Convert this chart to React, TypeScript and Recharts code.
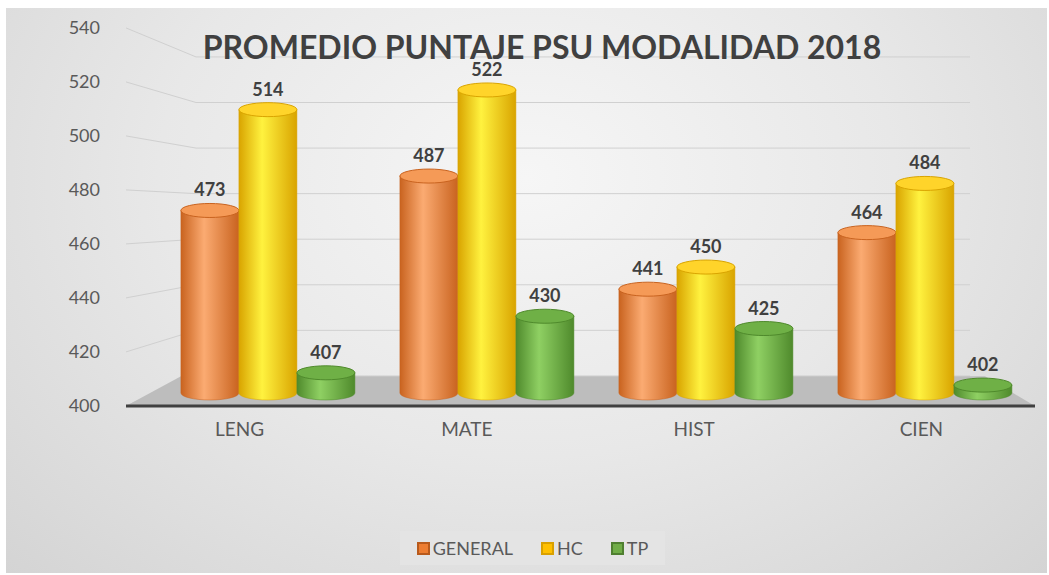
import React from 'react';
import {
  Bar,
  BarChart,
  CartesianGrid,
  LabelList,
  ReferenceArea,
  XAxis,
  YAxis,
} from 'recharts';

const categories = ['LENG', 'MATE', 'HIST', 'CIEN'];
const general = [473, 487, 441, 464];
const hc = [514, 522, 450, 484];
const tp = [407, 430, 425, 402];
const yTicks = [400, 420, 440, 460, 480, 500, 520, 540];

const data = categories.map((cat, i) => ({
  cat,
  general: general[i],
  hc: hc[i],
  tp: tp[i],
}));

const font = 'Lato, "Open Sans", sans-serif';
const textGray = '#595959';

const series = [
  { key: 'general', name: 'GENERAL', edge: '#c9631f', light: '#fbab72', top: '#f59a57', icon: '#ed7d31', iconEdge: '#b85a1c' },
  { key: 'hc', name: 'HC', edge: '#d9a400', light: '#fff23f', top: '#ffd42a', icon: '#ffc000', iconEdge: '#d9a000' },
  { key: 'tp', name: 'TP', edge: '#4f8a2c', light: '#8fd063', top: '#6fb046', icon: '#70ad47', iconEdge: '#4f7f30' },
];

function cylinder(key: string, edge: string, top: string) {
  return (props: any) => {
    const { x, y, width, height } = props;
    const ry = 7;
    const w = width;
    let bottom = y + height - 13;
    if (bottom < y) bottom = y;
    const d = `M${x},${y} L${x},${bottom} A${w / 2},${ry} 0 0 0 ${x + w},${bottom} L${x + w},${y} Z`;
    return (
      <g>
        <path d={d} fill={`url(#grad-${key})`} stroke={edge} strokeOpacity={0.5} />
        <ellipse cx={x + w / 2} cy={y} rx={w / 2} ry={ry} fill={top} stroke={edge} strokeWidth={1} />
      </g>
    );
  };
}

// back wall gridlines with the perspective leg to the left axis
function gridLine(props: any) {
  const { x1, x2, y1, key } = props;
  const leftY = 28 + (y1 - 57) * (378 / 319);
  if (leftY < 20 || leftY > 412) return <g key={key} />;
  return (
    <path
      key={key}
      d={`M${x1},${leftY} L${x1 + 70},${y1} L${x2 - 65},${y1}`}
      fill="none"
      stroke="#d0d0d0"
      strokeWidth={1}
    />
  );
}

function floor(props: any) {
  const { x, y, width, height } = props;
  const pts = `${x},${y + height} ${x + width},${y + height} ${x + width - 50},${y} ${x + 55},${y}`;
  return <polygon points={pts} fill="#bdbdbd" />;
}

export default function App() {
  return (
    <div style={{ position: 'absolute', left: 0, top: 0, width: 1049, height: 575, background: '#fff' }}>
      <div
        style={{
          position: 'absolute',
          left: 6,
          top: 8,
          width: 1041,
          height: 565,
          background: 'radial-gradient(ellipse at 50% 30%, #f6f6f6 0%, #e8e8e8 50%, #d4d4d4 100%)',
        }}
      />
      <div style={{ position: 'absolute', left: 0, top: 0 }}>
        <BarChart
          width={1049}
          height={575}
          data={data}
          margin={{ top: 28, right: 14, left: 66, bottom: 139 }}
          barCategoryGap="10%"
          barGap={0}
        >
          <defs>
            {series.map((s) => (
              <linearGradient key={s.key} id={`grad-${s.key}`} x1="0" y1="0" x2="1" y2="0">
                <stop offset="0%" stopColor={s.edge} />
                <stop offset="40%" stopColor={s.light} />
                <stop offset="100%" stopColor={s.edge} />
              </linearGradient>
            ))}
          </defs>
          <XAxis
            xAxisId="a"
            dataKey="cat"
            height={30}
            axisLine={{ stroke: '#404040', strokeWidth: 3 }}
            tickLine={false}
            tickMargin={11}
            tick={{ fill: textGray, fontSize: 19, fontFamily: font }}
          />
          <XAxis xAxisId="z" dataKey="cat" hide height={0} padding={{ left: 33, right: 0 }} />
          <YAxis
            yAxisId="a"
            type="number"
            width={60}
            domain={[400, 540]}
            allowDataOverflow
            ticks={yTicks}
            axisLine={false}
            tickLine={false}
            tickMargin={20}
            tick={{ fill: textGray, fontSize: 18, fontFamily: font }}
          />
          <YAxis
            yAxisId="w"
            type="number"
            hide
            width={0}
            domain={[386.8, 552.7]}
            allowDataOverflow
            ticks={yTicks}
          />
          <YAxis
            yAxisId="z"
            type="number"
            hide
            width={0}
            domain={[393.5, 547.2]}
            allowDataOverflow
          />
          <CartesianGrid xAxisId="a" yAxisId="w" vertical={false} horizontal={gridLine} />
          <ReferenceArea xAxisId="a" yAxisId="a" y1={400} y2={411} shape={floor} />
          {series.map((s) => (
            <Bar
              key={s.key}
              xAxisId="z"
              yAxisId="z"
              dataKey={s.key}
              name={s.name}
              fill={s.icon}
              shape={cylinder(s.key, s.edge, s.top)}
              isAnimationActive={false}
            >
              <LabelList
                dataKey={s.key}
                position="top"
                offset={14}
                fill="#404040"
                fontSize={18}
                fontWeight="bold"
                fontFamily={font}
              />
            </Bar>
          ))}
        </BarChart>
      </div>
      <div
        style={{
          position: 'absolute',
          left: 542,
          top: 29,
          transform: 'translateX(-50%)',
          whiteSpace: 'nowrap',
          fontFamily: font,
          fontWeight: 'bold',
          fontSize: 32,
          color: '#404040',
          lineHeight: '36px',
        }}
      >
        PROMEDIO PUNTAJE PSU MODALIDAD 2018
      </div>
      <div
        style={{
          position: 'absolute',
          left: 400,
          top: 531,
          width: 265,
          height: 34,
          background: '#e4e4e4',
          display: 'flex',
          alignItems: 'center',
          justifyContent: 'center',
          gap: 28,
          fontFamily: font,
          fontSize: 18,
          color: textGray,
        }}
      >
        {series.map((s) => (
          <div key={s.key} style={{ display: 'flex', alignItems: 'center' }}>
            <span
              style={{
                display: 'inline-block',
                width: 9,
                height: 9,
                background: s.icon,
                border: `2px solid ${s.iconEdge}`,
                marginRight: 3,
              }}
            />
            {s.name}
          </div>
        ))}
      </div>
    </div>
  );
}
